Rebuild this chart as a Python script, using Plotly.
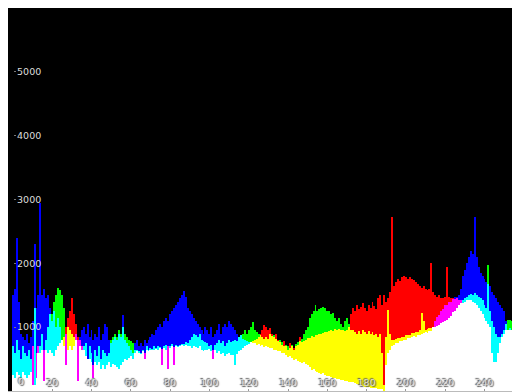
import numpy as np
import plotly.graph_objects as go

bins = list(range(256))

red = [
    250, 200, 300, 250, 200, 300, 250, 200, 250, 300,
    700, 100, 600, 700, 600, 640, 650, 640, 600, 650,
    600, 550, 650, 700, 750, 800, 850, 1000, 1150, 1250,
    1460, 1200, 1050, 850, 800, 700, 650, 550, 500, 500,
    450, 400, 450, 400, 450, 350, 400, 350, 400, 450,
    380, 420, 400, 380, 350, 400, 450, 500, 480,
    520, 550, 500, 600, 620, 600, 580, 620, 600, 650,
    620, 650, 640, 650, 660, 650, 680, 660, 680, 650,
    700, 680, 700, 690, 700, 690, 700, 720, 700, 720,
    700, 710, 680, 700, 690, 680, 700, 650, 620, 650,
    640, 660, 620, 650, 640, 600, 620, 580, 600, 550,
    580, 600, 570, 560, 400, 580, 620, 650, 680, 700,
    720, 740, 760, 780, 800, 820, 850, 900, 950, 1040,
    1000, 950, 980, 900, 850, 900, 800, 760, 720, 780,
    700, 650, 750, 700, 680, 700, 720, 850, 760, 780,
    800, 830, 835, 860, 850, 880, 870, 900, 890, 910,
    930, 920, 945, 950, 940, 965, 955, 975, 960,
    950, 940, 960, 1000, 1200, 1300, 1250, 1350, 1280, 1320,
    1380, 1300, 1260, 1350, 1300, 1400, 1330, 1280, 1450, 1500,
    1350, 1500, 1400, 1450, 1550, 2720, 1650, 1700, 1750, 1720,
    1780, 1800, 1790, 1760, 1780, 1750, 1740, 1700, 1680, 1650,
    1620, 1640, 1600, 1580, 1600, 2000, 1550, 1500, 1480, 1500,
    1450, 1460, 1480, 1950, 1470, 1460, 1460, 1440, 1450,
    1430, 1420, 1380, 1400, 1420, 1430, 1420, 1400, 1380, 1350,
    1300, 1250, 1200, 1150, 1100, 1050, 1000, 600, 450, 450,
    600, 750, 850, 900, 950, 950, 960, 950, 940,
]

green = [
    700, 600, 800, 650, 500, 700, 600, 550, 650, 500,
    100, 1300, 200, 600, 700, 900, 150, 800, 1000, 1200,
    1200, 1400, 1500, 1620, 1580, 1500, 1300, 400, 1000, 950,
    900, 850, 800, 150, 700, 650, 700, 750, 500, 700,
    600, 200, 650, 550, 700, 500, 650, 600, 550, 600,
    800, 850, 900, 850, 950, 900, 1000, 900, 850,
    800, 780, 750, 650, 650, 620, 600, 650, 500, 700,
    650, 680, 660, 700, 680, 700, 690, 400, 700, 720,
    350, 700, 740, 400, 720, 700, 720, 730, 740, 760,
    750, 800, 850, 900, 880, 850, 900, 800, 780, 760,
    750, 700, 720, 500, 720, 750, 800, 750, 780, 700,
    750, 800, 760, 780, 800, 780, 850, 870, 900, 950,
    900, 950, 1000, 1080, 950, 920, 900, 880, 850, 820,
    850, 820, 900, 860, 880, 820, 780, 800, 760, 700,
    720, 700, 680, 720, 650, 740, 760, 780, 820, 900,
    950, 1000, 1150, 1200, 1250, 1350, 1250, 1280, 1300, 1310,
    1300, 1260, 1250, 1200, 1220, 1150, 1100, 1150, 1050,
    1000, 1100, 1150, 1050, 950, 950, 920, 900, 940, 900,
    950, 920, 900, 940, 900, 920, 880, 900, 850, 900,
    600, 100, 850, 1270, 900, 800, 800, 815, 830, 825,
    850, 845, 870, 880, 875, 905, 910, 930, 925, 950,
    1220, 1100, 960, 970, 980, 990, 1000, 1000, 1020, 1040,
    1060, 1080, 1100, 1120, 1150, 1180, 1230, 1260, 1300,
    1340, 1380, 1420, 1450, 1480, 1500, 1520, 1500, 1540, 1500,
    1480, 1450, 1420, 1350, 1300, 1980, 1250, 1100, 1000, 900,
    850, 850, 900, 950, 1050, 1110, 1120, 1100, 1080,
]

blue = [
    1500, 1600, 2400, 1400, 900, 850, 800, 900, 750, 850,
    1100, 2300, 1300, 1500, 2950, 1500, 1600, 1450, 1500, 1300,
    1100, 1250, 1000, 1150, 1000, 800, 700, 900, 650, 700,
    650, 700, 900, 800, 850, 950, 1000, 900, 1050, 850,
    950, 800, 900, 850, 1000, 800, 900, 1050, 1000, 800,
    750, 800, 850, 800, 900, 850, 1190, 800, 750,
    700, 650, 600, 750, 800, 700, 750, 700, 800, 750,
    800, 850, 900, 880, 950, 1000, 1050, 1000, 1100, 1150,
    1100, 1200, 1250, 1300, 1350, 1400, 1450, 1500, 1560, 1480,
    1300, 1250, 1200, 1150, 1100, 1050, 1000, 950, 900, 1000,
    950, 900, 1000, 850, 900, 950, 1050, 900, 1000, 1050,
    1000, 1100, 1050, 1000, 950, 900, 850, 880, 820, 800,
    790, 760, 770, 745, 750, 720, 735, 700, 715, 690,
    700, 690, 670, 680, 650, 640, 620, 630, 590, 600,
    560, 530, 545, 510, 490, 500, 470, 455, 440, 450,
    420, 400, 380, 330, 345, 310, 300, 285, 270, 280,
    250, 235, 240, 220, 200, 210, 190, 185, 170,
    165, 160, 150, 145, 140, 135, 120, 110, 100, 90,
    80, 70, 60, 55, 50, 45, 40, 40, 35, 30,
    30, 0, 400, 600, 650, 700, 715, 745, 750, 790,
    780, 805, 800, 830, 825, 845, 860, 850, 880, 875,
    895, 905, 920, 910, 940, 935, 1010, 1090, 1160, 1190,
    1260, 1290, 1340, 1345, 1390, 1395, 1440, 1470, 1475,
    1510, 1600, 1800, 1900, 2000, 2100, 2200, 2150, 2730, 2100,
    1950, 1850, 1800, 1750, 1700, 1680, 1650, 1550, 1500, 1450,
    1400, 1350, 1300, 1250, 1100, 950, 980, 950, 930,
]

x_tick_vals = [0, 20, 40, 60, 80, 100, 120, 140, 160, 180, 200, 220, 240]
x_tick_text = ["0", "20", "40", "60", "80", "100", "120",
               "140", "160", "180", "200", "220", "240"]
y_tick_vals = [1000, 2000, 3000, 4000, 5000]
y_tick_text = ["1000", "2000", "3000", "4000", "5000"]

assert len(red) == len(green) == len(blue) == len(bins)

# Additive RGB overlay: split each bin into white / two-channel / single-channel layers
vals = np.array([red, green, blue], dtype=float).T
order = np.argsort(vals, axis=1, kind="stable")
sv = np.take_along_axis(vals, order, axis=1)
low, mid, high = sv[:, 0], sv[:, 1], sv[:, 2]

single_col = {0: "#FF0000", 1: "#00FF00", 2: "#0000FF"}
pair_col = {frozenset((0, 1)): "#FFFF00", frozenset((0, 2)): "#FF00FF",
            frozenset((1, 2)): "#00FFFF"}
top_colors = [single_col[int(o)] for o in order[:, 2]]
pair_colors = [pair_col[frozenset((int(a), int(b)))] for a, b in zip(order[:, 1], order[:, 2])]

fig = go.Figure()
fig.add_trace(go.Bar(x=bins, y=low, marker=dict(color="#FFFFFF", line=dict(width=0))))
fig.add_trace(go.Bar(x=bins, y=mid - low, marker=dict(color=pair_colors, line=dict(width=0))))
fig.add_trace(go.Bar(x=bins, y=high - mid, marker=dict(color=top_colors, line=dict(width=0))))

xfont = dict(family="DejaVu Sans", size=9.5, color="#d8d8d8",
             shadow="1px 1px 1px #555, -1px -1px 1px #555")

fig.update_layout(
    width=512, height=392,
    margin=dict(l=8, r=0, t=8, b=1),
    barmode="stack", bargap=0,
    showlegend=False,
    plot_bgcolor="#000000", paper_bgcolor="#FFFFFF",
    font=dict(family="DejaVu Sans"),
    hovermode=False,
)
fig.update_xaxes(
    range=[-2.5, 254], tickvals=x_tick_vals[1:], ticktext=x_tick_text[1:],
    ticklabelposition="inside", ticklabeloverflow="allow",
    ticks="inside", ticklen=2, tickcolor="#999",
    tickfont=xfont,
    showgrid=False, zeroline=True, zerolinecolor="#bbbbbb", zerolinewidth=1, showline=False,
)
# first x label sits just right of the y axis line
fig.add_annotation(x=x_tick_vals[0], y=0, xref="x", yref="y", text=x_tick_text[0],
                   showarrow=False, xanchor="left", yanchor="bottom",
                   xshift=3, yshift=2, font=xfont)
fig.update_yaxes(
    range=[0, 6000], tickvals=y_tick_vals, ticktext=y_tick_text,
    anchor="free", position=0.0099,
    ticklabelposition="inside", ticks="inside", ticklen=2, tickcolor="#777",
    tickfont=dict(size=9.5, color="#dddddd"),
    showgrid=False, zeroline=True, zerolinecolor="#bbbbbb", zerolinewidth=1, showline=False,
)

fig.write_html(
    "out.html",
    config={"displayModeBar": False, "staticPlot": True},
    post_script=(
        "document.body.style.margin='0';"
        "document.body.style.overflow='hidden';"
        "document.documentElement.style.overflow='hidden';"
    ),
)
